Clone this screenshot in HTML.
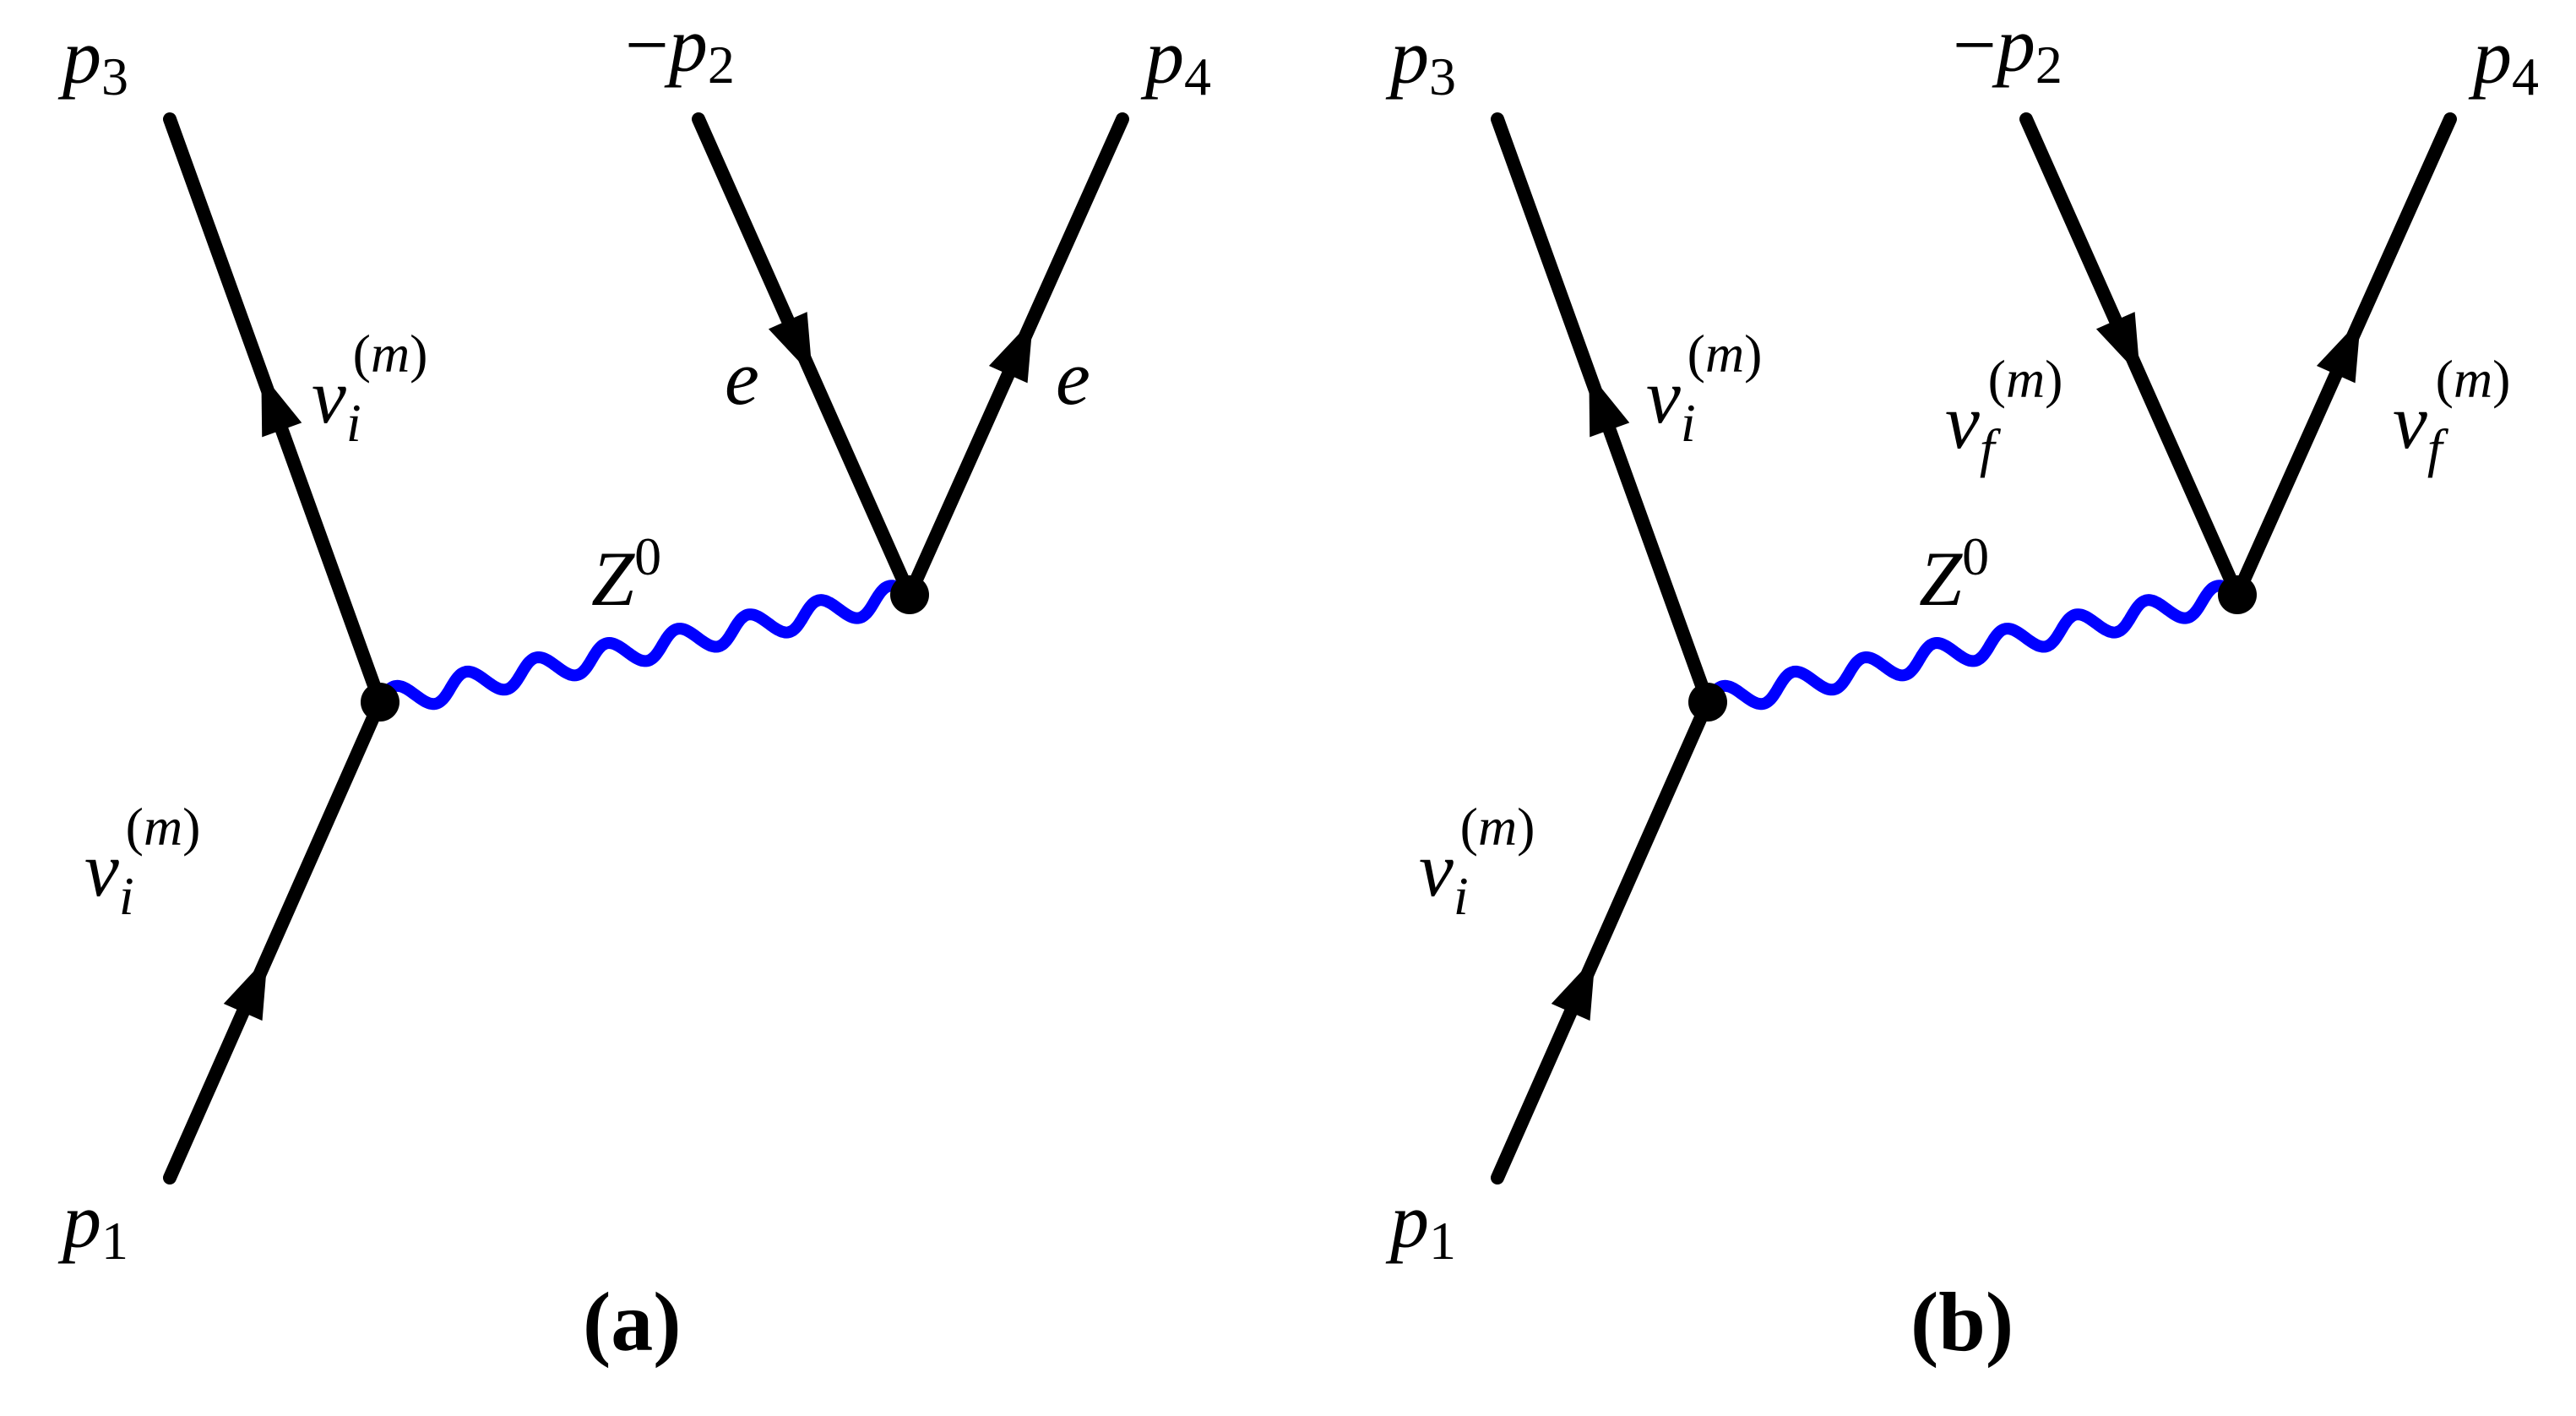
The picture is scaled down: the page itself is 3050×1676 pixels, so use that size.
<!DOCTYPE html>
<html><head><meta charset="utf-8"><style>
html,body{margin:0;padding:0;background:#fff;}
svg{display:block;}
text{font-family:"Liberation Serif",serif;font-style:italic;fill:#000;}
.b{font-style:normal;font-weight:bold;}
.n{font-style:normal;}
</style></head><body>
<svg id="s" width="3050" height="1676" viewBox="0 0 3050 1676" xmlns="http://www.w3.org/2000/svg">
<g id="a">
<g stroke="#000" stroke-width="16" stroke-linecap="round" fill="none">
<line x1="201" y1="141" x2="450" y2="831"/>
<line x1="201" y1="1394" x2="450" y2="831"/>
<line x1="827" y1="141" x2="1077" y2="704"/>
<line x1="1329" y1="141" x2="1077" y2="704"/>
</g>
<g class="arrows"></g>
<path class="wave" fill="none" stroke="#0000ff" stroke-width="14" stroke-linecap="round"/>
<circle cx="450" cy="831" r="23" fill="#000"/>
<circle cx="1077" cy="704" r="23" fill="#000"/>
<text x="74" y="98" font-size="92">p<tspan class="n" font-size="64" dy="14">3</tspan></text>
<text x="740" y="84" font-size="92"><tspan class="n">−</tspan>p<tspan class="n" font-size="64" dy="14">2</tspan></text>
<text x="1356" y="98" font-size="92">p<tspan class="n" font-size="64" dy="14">4</tspan></text>
<text x="74" y="1476" font-size="92">p<tspan class="n" font-size="64" dy="14">1</tspan></text>
<text x="700" y="716" font-size="92">Z<tspan class="n" font-size="64" dy="-36">0</tspan></text>
<text x="690" y="1598" font-size="100" class="b">(a)</text>
</g>
<g id="lab-a">
<text x="369" y="500" font-size="92">ν<tspan font-size="64" dy="22">i</tspan><tspan class="n" font-size="64" dx="-10" dy="-82">(</tspan><tspan font-size="64">m</tspan><tspan class="n" font-size="64">)</tspan></text>
<text x="100" y="1060" font-size="92">ν<tspan font-size="64" dy="22">i</tspan><tspan class="n" font-size="64" dx="-10" dy="-82">(</tspan><tspan font-size="64">m</tspan><tspan class="n" font-size="64">)</tspan></text>
<text x="858" y="478" font-size="92">e</text>
<text x="1250" y="478" font-size="92">e</text>
</g>
<g id="lab-b">
<text x="1949" y="500" font-size="92">ν<tspan font-size="64" dy="22">i</tspan><tspan class="n" font-size="64" dx="-10" dy="-82">(</tspan><tspan font-size="64">m</tspan><tspan class="n" font-size="64">)</tspan></text>
<text x="1680" y="1060" font-size="92">ν<tspan font-size="64" dy="22">i</tspan><tspan class="n" font-size="64" dx="-10" dy="-82">(</tspan><tspan font-size="64">m</tspan><tspan class="n" font-size="64">)</tspan></text>
<text x="2303" y="530" font-size="92">ν<tspan font-size="64" dy="22">f</tspan><tspan class="n" font-size="64" dx="-8" dy="-82">(</tspan><tspan font-size="64">m</tspan><tspan class="n" font-size="64">)</tspan></text>
<text x="2833" y="530" font-size="92">ν<tspan font-size="64" dy="22">f</tspan><tspan class="n" font-size="64" dx="-8" dy="-82">(</tspan><tspan font-size="64">m</tspan><tspan class="n" font-size="64">)</tspan></text>
</g>
</svg>
<script>
(function(){
var s=document.getElementById('s'),a=document.getElementById('a');
var b=a.cloneNode(true);b.id='b';b.setAttribute('transform','translate(1572,0)');
var t=b.querySelectorAll('text');t[t.length-1].textContent='(b)';
s.insertBefore(b,document.getElementById('lab-a'));
var NS='http://www.w3.org/2000/svg';
function wave(g){
var x1=450,y1=831,x2=1077,y2=704,dx=x2-x1,dy=y2-y1,L=Math.hypot(dx,dy),ux=dx/L,uy=dy/L,nx=-uy,ny=ux;
var per=7.5,A=15,d='';
for(var i=0;i<=400;i++){var f=i/400,s2=f*L,o=-A*Math.sin(f*per*2*Math.PI);
var x=x1+ux*s2+nx*o,y=y1+uy*s2+ny*o;d+=(i?'L':'M')+x.toFixed(1)+' '+y.toFixed(1);}
g.querySelector('.wave').setAttribute('d',d);
var ar=g.querySelector('.arrows');
[[201,1394,450,831,0.465],[450,831,201,141,0.565],[827,141,1077,704,0.54],[1077,704,1329,141,0.58]].forEach(function(q){
var ex=q[2]-q[0],ey=q[3]-q[1],l=Math.hypot(ex,ey),vx=ex/l,vy=ey/l;
var tx=q[0]+ex*q[4],ty=q[1]+ey*q[4],len=72,w=25;
var bx=tx-vx*len,by=ty-vy*len;
var p=document.createElementNS(NS,'polygon');
p.setAttribute('points',tx+','+ty+' '+(bx-vy*w)+','+(by+vx*w)+' '+(bx+vy*w)+','+(by-vx*w));
p.setAttribute('fill','#000');ar.appendChild(p);});
}
wave(a);wave(b);
})();
</script>
</body></html>
